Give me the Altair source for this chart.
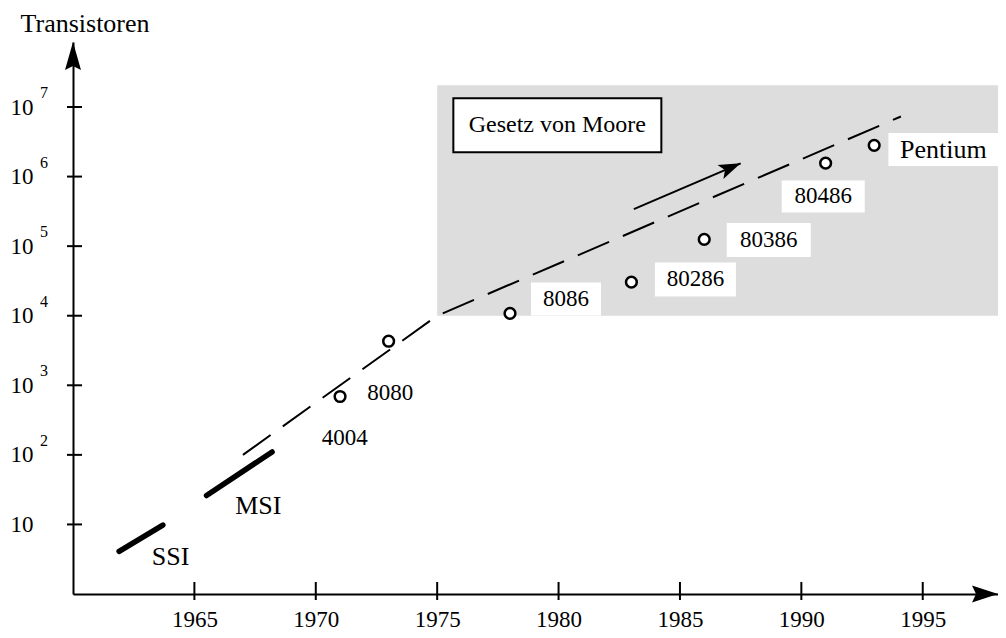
import altair as alt
import pandas as pd

FONT = "Liberation Serif"

# ---------------- data ----------------
chip_names = ["4004", "8080", "8086", "80286", "80386", "80486", "Pentium"]
chip_years = [1971, 1973, 1978, 1983, 1986, 1991, 1993]
chip_transistors = [690, 4300, 10800, 30400, 125000, 1560000, 2810000]

moore_years = [1967, 1975, 1994.1]
moore_values = [100, 10000, 7.3e6]

ssi_years = [1961.9, 1963.7]
ssi_values = [4.1, 9.8]
msi_years = [1965.5, 1968.2]
msi_values = [26, 110]

trend_years = [1983.1, 1987.5]
trend_values = [3.4e5, 1.55e6]

x_ticks = [1965, 1970, 1975, 1980, 1985, 1990, 1995]
y_ticks = [10, 100, 1000, 10000, 100000, 1000000, 10000000]
y_exponents = ["", "2", "3", "4", "5", "6", "7"]

X_MIN, X_MAX = 1960, 1998.1
Y_MIN, Y_MAX = 1, 8.6e7

region_years = [1975, X_MAX]
region_values = [1e4, 2.05e7]

moore_label = "Gesetz von Moore"
moore_label_year = 1979.95
moore_label_value = 5.46e6

# label layout (pixel offsets of text centre from the point, box size, font size)
LABEL_LAYOUT = {
    "4004": dict(dx=4.7, dy=41, box=None, fs=23),
    "8080": dict(dx=1.7, dy=51.3, box=None, fs=23),
    "8086": dict(dx=56, dy=-14.5, box=(70, 33), fs=23),
    "80286": dict(dx=64, dy=-2.7, box=(81, 34), fs=23),
    "80386": dict(dx=64.5, dy=0.5, box=(84, 34), fs=23),
    "80486": dict(dx=-2.4, dy=33.3, box=(83, 32), fs=23),
    "Pentium": dict(dx=69.2, dy=4.2, box=(110, 33), fs=26),
}

# ---------------- tables ----------------
chips = pd.DataFrame({"name": chip_names, "year": chip_years, "value": chip_transistors})
moore = pd.DataFrame({"year": moore_years, "value": moore_values, "i": range(len(moore_years))})
seg = pd.DataFrame({
    "seg": ["SSI"] * 2 + ["MSI"] * 2,
    "year": ssi_years + msi_years,
    "value": ssi_values + msi_values,
})
trend = pd.DataFrame({"year": trend_years, "value": trend_values})
region = pd.DataFrame({"y0": [region_years[0]], "y1": [region_years[1]],
                       "v0": [region_values[0]], "v1": [region_values[1]]})
xt = pd.DataFrame({"year": x_ticks})
yt = pd.DataFrame({"value": y_ticks, "exp": y_exponents})

XSCALE = alt.Scale(domain=[X_MIN, X_MAX], nice=False, zero=False)
YSCALE = alt.Scale(type="log", domain=[Y_MIN, Y_MAX], nice=False)

XAXIS = alt.Axis(values=x_ticks, format="d", ticks=False, tickSize=0, grid=False,
                 domainColor="black", domainWidth=2, labelFont=FONT, labelFontSize=23,
                 labelColor="black", labelPadding=14, labelBaseline="top",
                 labelFlush=False, labelOverlap=False, title=None)
YAXIS = alt.Axis(values=y_ticks, labelExpr="'10'", ticks=False, tickSize=0, grid=False,
                 domainColor="black", domainWidth=2, labelFont=FONT, labelFontSize=23,
                 labelColor="black", labelPadding=40, labelOverlap=False, labelFlush=False,
                 title="Transistoren", titleAngle=0, titleX=-53, titleY=-11,
                 titleAlign="left", titleBaseline="alphabetic", titleFont=FONT,
                 titleFontSize=26, titleFontWeight="normal", titleColor="black")


def X(f):
    return alt.X(f, type="quantitative", scale=XSCALE, axis=XAXIS)


def Y(f):
    return alt.Y(f, type="quantitative", scale=YSCALE, axis=YAXIS)


def XD(v):
    return alt.XDatum(v, type="quantitative", scale=XSCALE, axis=XAXIS)


def YD(v):
    return alt.YDatum(v, type="quantitative", scale=YSCALE, axis=YAXIS)


def rect_path(w, h):
    return f"M{-w/2},{-h/2}H{w/2}V{h/2}H{-w/2}Z"


layers = []

# grey region
layers.append(alt.Chart(region).mark_rect(color="#dddddd").encode(
    x=X("y0:Q"), x2="y1:Q", y=Y("v0:Q"), y2="v1:Q"))

# "Gesetz von Moore" box
mlab = pd.DataFrame({"year": [moore_label_year], "value": [moore_label_value], "t": [moore_label]})
layers.append(alt.Chart(mlab).mark_point(shape=rect_path(208, 54), size=4, filled=True,
                                         fill="white", stroke="black", strokeWidth=2,
                                         opacity=1).encode(x=X("year:Q"), y=Y("value:Q")))
layers.append(alt.Chart(mlab).mark_text(font=FONT, fontSize=24, color="black",
                                        align="center", baseline="middle").encode(
    x=X("year:Q"), y=Y("value:Q"), text="t:N"))

# chip label boxes and texts
for name, lay in LABEL_LAYOUT.items():
    base = alt.Chart(chips).transform_filter(alt.datum.name == name)
    if lay["box"] is not None:
        w, h = lay["box"]
        layers.append(base.mark_point(shape=rect_path(w, h), size=4, filled=True,
                                      color="white", strokeWidth=0, opacity=1,
                                      xOffset=lay["dx"], yOffset=lay["dy"]).encode(
            x=X("year:Q"), y=Y("value:Q")))
    layers.append(base.mark_text(font=FONT, fontSize=lay["fs"], color="black", align="center",
                                 baseline="middle", dx=lay["dx"], dy=lay["dy"]).encode(
        x=X("year:Q"), y=Y("value:Q"), text="name:N"))

# SSI / MSI thick segments
layers.append(alt.Chart(seg).mark_line(color="black", strokeWidth=5.5, strokeCap="round").encode(
    x=X("year:Q"), y=Y("value:Q"), detail="seg:N"))
seg_lab = pd.DataFrame({"seg": ["SSI", "MSI"], "year": [ssi_years[1], msi_years[1]],
                        "value": [ssi_values[1], msi_values[1]]})
for s, (dx, dy) in {"SSI": (7.7, 32.4), "MSI": (-13.7, 54.4)}.items():
    layers.append(alt.Chart(seg_lab).transform_filter(alt.datum.seg == s).mark_text(
        font=FONT, fontSize=26, color="black", align="center", baseline="middle",
        dx=dx, dy=dy).encode(x=X("year:Q"), y=Y("value:Q"), text="seg:N"))

# chip circles
layers.append(alt.Chart(chips).mark_point(shape="circle", size=115, filled=True, fill="white",
                                          stroke="black", strokeWidth=2.5, opacity=1).encode(
    x=X("year:Q"), y=Y("value:Q")))

# Moore dashed line
layers.append(alt.Chart(moore).mark_line(color="black", strokeWidth=2, strokeDash=[34, 15]).encode(
    x=X("year:Q"), y=Y("value:Q"), order="i:Q"))

# trend arrow
layers.append(alt.Chart(trend).mark_line(color="black", strokeWidth=2).encode(
    x=X("year:Q"), y=Y("value:Q")))
layers.append(alt.Chart(trend.tail(1)).mark_point(shape="M0,0L-22,-7.5L-17,0L-22,7.5Z", size=4,
                                                  filled=True, color="black", opacity=1,
                                                  strokeWidth=0, angle=336.8).encode(
    x=X("year:Q"), y=Y("value:Q")))

# axis ticks crossing the axes
layers.append(alt.Chart(xt).mark_tick(orient="vertical", size=18, thickness=2, color="black",
                                      opacity=1, yOffset=-3).encode(x=X("year:Q"), y=YD(Y_MIN)))
layers.append(alt.Chart(yt).mark_tick(orient="horizontal", size=15, thickness=2, color="black",
                                      opacity=1, xOffset=1.5).encode(x=XD(X_MIN), y=Y("value:Q")))

# exponents of the y labels
layers.append(alt.Chart(yt).mark_text(font=FONT, fontSize=16, color="black", align="left",
                                      baseline="middle", dx=-33, dy=-14).encode(
    x=XD(X_MIN), y=Y("value:Q"), text="exp:N"))

# axis arrow heads
layers.append(alt.Chart(pd.DataFrame({"a": [0]})).mark_point(
    shape="M0,0L8,28L0,24L-8,28Z", size=4, filled=True, color="black", opacity=1,
    strokeWidth=0).encode(x=XD(X_MIN), y=YD(Y_MAX)))
layers.append(alt.Chart(pd.DataFrame({"a": [0]})).mark_point(
    shape="M0,0L-26,-8.5L-22,0L-26,8.5Z", size=4, filled=True, color="black", opacity=1,
    strokeWidth=0).encode(x=XD(X_MAX), y=YD(Y_MIN)))

chart = alt.layer(*layers).properties(
    width=925, height=552,
    padding={"left": 65, "top": 34, "right": 0, "bottom": 36},
    autosize=alt.AutoSizeParams(type="none"),
    background="white",
).configure_view(stroke=None)

chart.save("out.html", embed_options={"renderer": "svg", "actions": False})
